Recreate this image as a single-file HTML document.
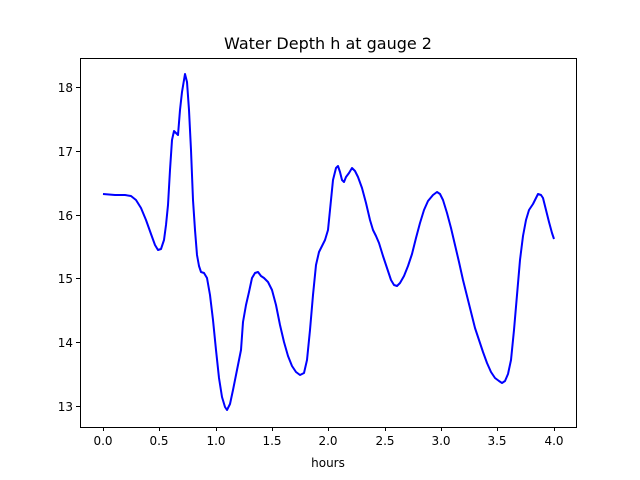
<!DOCTYPE html>
<html><head><style>
body{margin:0;background:#fff}
svg{display:block;font-family:"DejaVu Sans","Liberation Sans",sans-serif}
</style></head><body>
<svg width="640" height="480" viewBox="0 0 640 480">
<defs><clipPath id="c"><rect x="80" y="58" width="497" height="370"/></clipPath></defs>
<rect x="0" y="0" width="640" height="480" fill="#fff"/>
<text x="328" y="49" font-size="16" text-anchor="middle">Water Depth h at gauge 2</text>
<polyline clip-path="url(#c)" fill="none" stroke="#0000ff" stroke-width="2" stroke-linejoin="round" points="103,194 115,195 125,195 131,196 136,200 141,208 146,220 151,234 155,245 158,250 161,249 164,240 166,225 168,205 170,170 172,140 174,131 176,133 178,135 180,110 182,92 184,80 185,74 187,82 189,110 191,150 193,200 195,230 197,255 199,266 201,272 204,273 207,278 210,295 213,320 216,350 219,378 222,397 225,407 227,410 230,404 233,390 237,370 241,350 243,322 246,305 249,292 252,278 255,273 258,272 261,276 264,278 268,282 272,290 276,305 280,325 284,342 288,356 292,366 296,372 300,375 304,373 307,360 310,330 313,295 316,265 319,252 322,246 325,240 328,230 330,210 333,180 336,168 338,166 340,172 342,180 344,182 346,177 349,173 352,168 355,171 358,177 362,188 366,203 370,220 373,230 376,236 379,243 383,256 387,268 391,280 394,285 397,286 400,283 404,276 408,266 412,254 416,238 420,223 424,210 428,201 433,195 437,192 440,194 443,200 447,213 451,228 455,245 459,262 463,280 467,296 471,312 475,328 479,340 483,352 487,363 491,372 495,378 499,381 502,383 505,381 508,374 511,360 514,330 517,295 520,260 523,236 526,220 529,210 533,204 536,198 538,194 541,195 543,198 546,210 549,222 552,233 554,239"/>
<rect x="80.5" y="58.5" width="496" height="369" fill="none" stroke="#000" stroke-width="1"/>
<g stroke="#000" stroke-width="1">
<line x1="103.5" y1="427" x2="103.5" y2="431"/>
<line x1="159.5" y1="427" x2="159.5" y2="431"/>
<line x1="216.5" y1="427" x2="216.5" y2="431"/>
<line x1="272.5" y1="427" x2="272.5" y2="431"/>
<line x1="328.5" y1="427" x2="328.5" y2="431"/>
<line x1="385.5" y1="427" x2="385.5" y2="431"/>
<line x1="441.5" y1="427" x2="441.5" y2="431"/>
<line x1="497.5" y1="427" x2="497.5" y2="431"/>
<line x1="554.5" y1="427" x2="554.5" y2="431"/>
<line x1="76" y1="87.5" x2="80" y2="87.5"/>
<line x1="76" y1="151.5" x2="80" y2="151.5"/>
<line x1="76" y1="215.5" x2="80" y2="215.5"/>
<line x1="76" y1="278.5" x2="80" y2="278.5"/>
<line x1="76" y1="342.5" x2="80" y2="342.5"/>
<line x1="76" y1="406.5" x2="80" y2="406.5"/>
</g>
<g font-size="12" text-anchor="middle">
<text x="103" y="445">0.0</text><text x="159" y="445">0.5</text><text x="216" y="445">1.0</text>
<text x="272" y="445">1.5</text><text x="328" y="445">2.0</text><text x="385" y="445">2.5</text>
<text x="441" y="445">3.0</text><text x="497" y="445">3.5</text><text x="554" y="445">4.0</text>
<text x="328" y="467">hours</text>
</g>
<g font-size="12" text-anchor="end">
<text x="73" y="92">18</text><text x="73" y="156">17</text><text x="73" y="220">16</text>
<text x="73" y="283">15</text><text x="73" y="347">14</text><text x="73" y="411">13</text>
</g>
</svg>
</body></html>
